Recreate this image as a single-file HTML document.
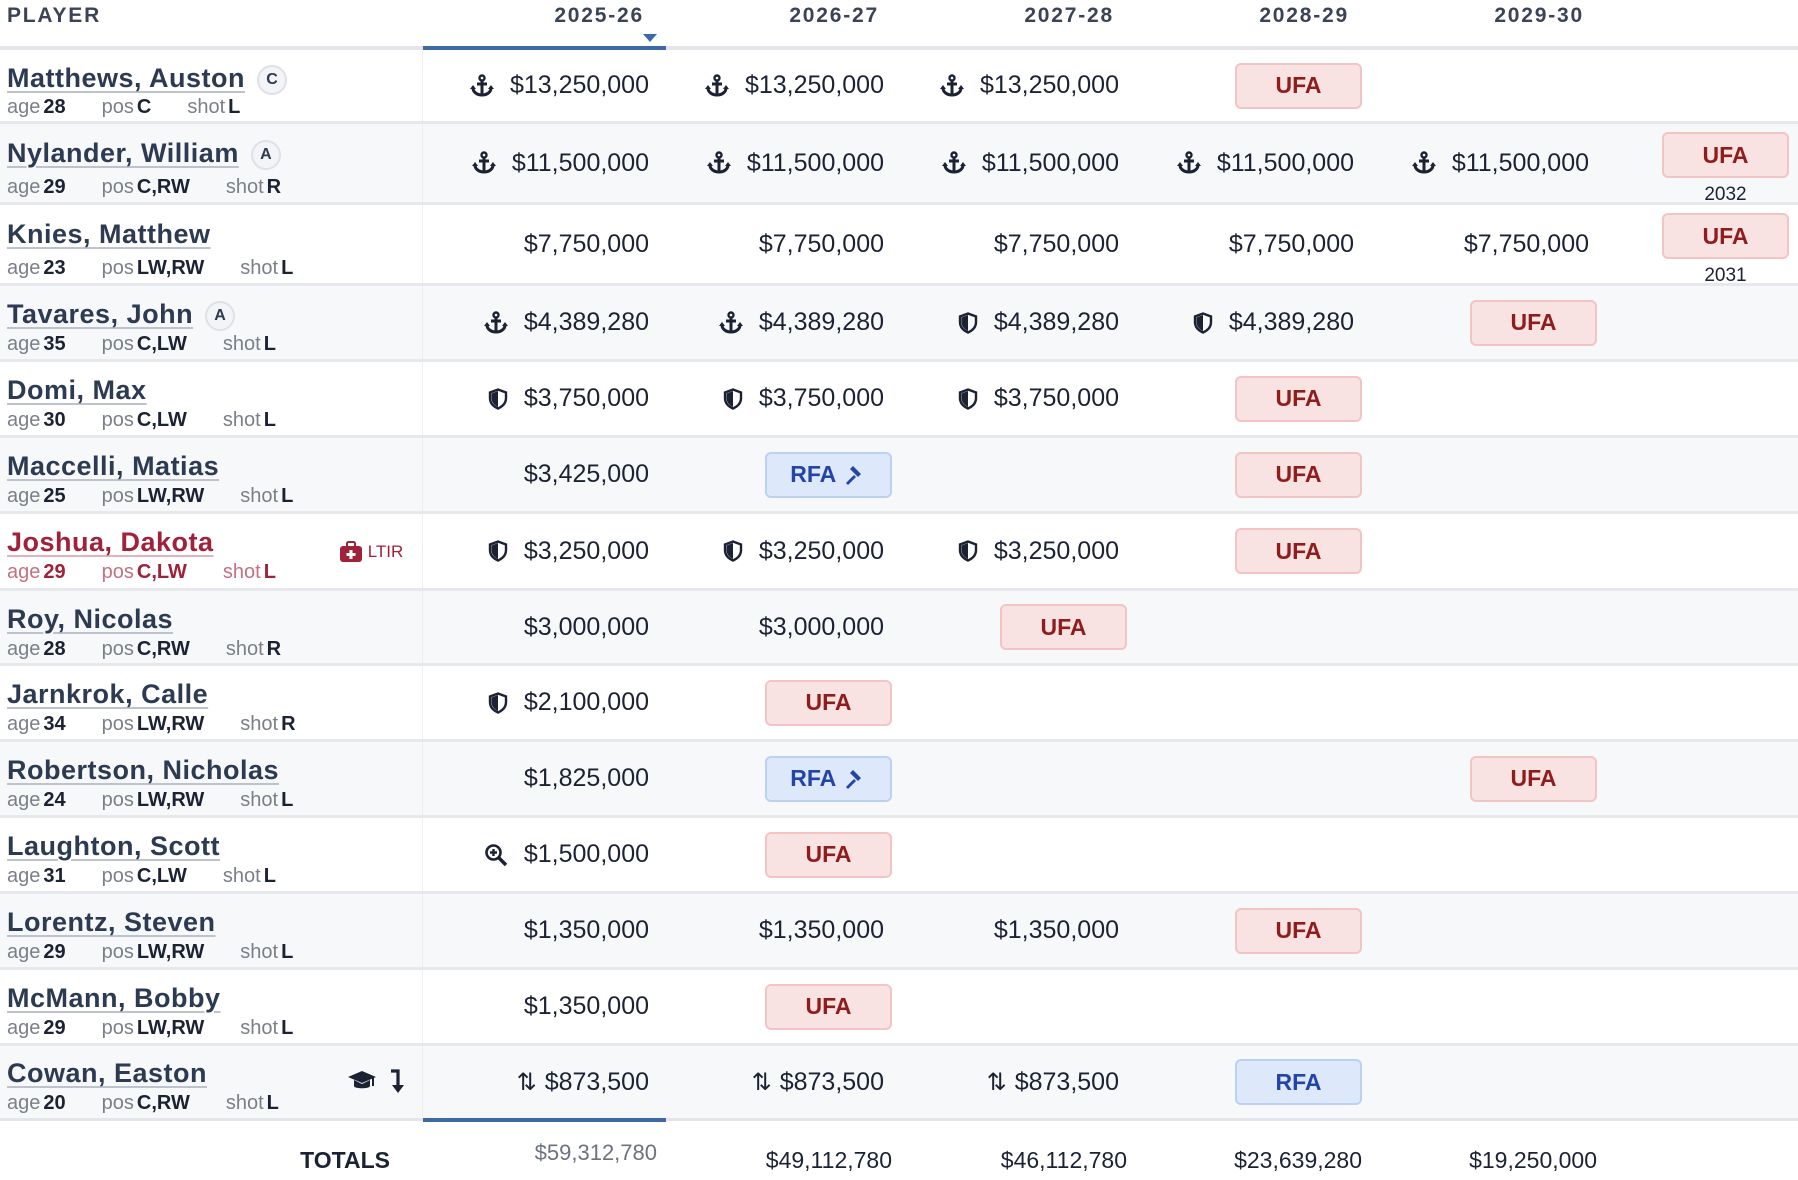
<!DOCTYPE html>
<html><head><meta charset="utf-8">
<style>
*{margin:0;padding:0;box-sizing:border-box}
body{width:1798px;height:1180px;background:#fff;position:relative;overflow:hidden;font-family:"Liberation Sans",sans-serif;color:#1b2233}
.hd{position:absolute;top:4px;font-size:21px;font-weight:bold;color:#3a4456;letter-spacing:1.8px;line-height:24px}
.r{position:absolute;left:0;width:1798px;border-bottom:3px solid #e6e8ec}
.g{background:#f7f8fa}
.pc{position:absolute;left:0;top:0;width:423px;height:100%;border-right:1px solid #eceef2}
.nm{position:absolute;left:7px;top:14px;font-size:27px;font-weight:bold;color:#2c3a52;line-height:30px;white-space:nowrap;letter-spacing:0.5px}
.nm u{text-decoration:underline;text-decoration-color:#bcc3cf;text-decoration-thickness:2px;text-underline-offset:4px}
.sb{position:absolute;left:7px;top:50px;font-size:20px;color:#7a7f88;line-height:22px;white-space:nowrap}
.sb b{color:#1b2233;margin-left:3px;margin-right:36px}
.tg{display:inline-block;width:30px;height:30px;border-radius:50%;border:2px solid #dde1e8;background:#f3f4f7;font-size:16px;text-align:center;line-height:26px;color:#2c3a52;margin-left:12px;vertical-align:3px;letter-spacing:0}
.m{position:absolute;top:0;height:100%;display:flex;align-items:center;font-size:25px;white-space:nowrap}
.m svg,.m .ic{margin-right:16px}
.ic{font-size:24px}
.m0{right:1149px}.m1{right:914px}.m2{right:679px}.m3{right:444px}.m4{right:209px}
.b{position:absolute;width:127px;height:46px;border-radius:6px;font-size:23px;font-weight:bold;display:flex;align-items:center;justify-content:center;top:50%;margin-top:-23px}
.u{background:#f9e2e2;border:2px solid #f2c4c4;color:#8f1d1d}
.f{background:#dde8fb;border:2px solid #bcd0f1;color:#2345a8}
.b0{right:1141px}.b1{right:906px}.b2{right:671px}.b3{right:436px}.b4{right:201px}
.bx{right:9px;top:8px;margin-top:0}
.yr{position:absolute;right:9px;width:127px;text-align:center;font-size:19px;top:60px}
.tot{position:absolute;font-size:23px;line-height:28px;white-space:nowrap}
</style></head><body>
<div class="hd" style="left:7px">PLAYER</div>
<div class="hd" style="right:1154px">2025-26</div>
<div class="hd" style="right:919px">2026-27</div>
<div class="hd" style="right:684px">2027-28</div>
<div class="hd" style="right:449px">2028-29</div>
<div class="hd" style="right:214px">2029-30</div>
<div style="position:absolute;left:643px;top:34px;width:0;height:0;border-left:7px solid transparent;border-right:7px solid transparent;border-top:8px solid #3d69a6"></div>
<div style="position:absolute;left:0;top:46px;width:1798px;height:4px;background:#e4e5ea"></div>
<div style="position:absolute;left:423px;top:46px;width:243px;height:4px;background:#3d69a6"></div>

<svg width="0" height="0" style="position:absolute"><defs>
<symbol id="sh" viewBox="0 0 20 22"><path d="M10 1.5 L18 4.5 V10 C18 15 14.5 18.5 10 20.5 C5.5 18.5 2 15 2 10 V4.5 Z" fill="none" stroke="#1b2233" stroke-width="2.4"/><path d="M10 3 V19 C6 17 3.5 14 3.5 10 V5.5 Z" fill="#1b2233"/></symbol>
<symbol id="an" viewBox="0 0 24 24"><circle cx="12" cy="4" r="2.5" fill="none" stroke="#1b2233" stroke-width="2.4"/><path d="M12 6.5V21M7 10h10M3 14c0 4 4 7 9 7s9-3 9-7" fill="none" stroke="#1b2233" stroke-width="3"/><path d="M0 15l3-4 3 4zM18 15l3-4 3 4z" fill="#1b2233"/></symbol>
<symbol id="hm" viewBox="0 0 24 24"><path d="M10 3l8 8-3 3-8-8z" fill="#2345a8"/><path d="M11 12L3 20l2 2 8-8z" fill="#2345a8"/></symbol>
</defs></svg>

<!-- Matthews -->
<div class="r" style="top:50px;height:74px"><div class="pc"></div>
<div class="nm" style="top:13px"><u>Matthews, Auston</u><span class="tg">C</span></div>
<div class="sb" style="top:46px">age<b>28</b>pos<b>C</b>shot<b>L</b></div>
<div class="m m0"><svg width="24" height="24"><use href="#an"/></svg>$13,250,000</div>
<div class="m m1"><svg width="24" height="24"><use href="#an"/></svg>$13,250,000</div>
<div class="m m2"><svg width="24" height="24"><use href="#an"/></svg>$13,250,000</div>
<div class="b u b3">UFA</div>
</div>
<!-- Nylander -->
<div class="r g" style="top:124px;height:81px"><div class="pc"></div>
<div class="nm"><u>Nylander, William</u><span class="tg">A</span></div>
<div class="sb" style="top:52px">age<b>29</b>pos<b>C,RW</b>shot<b>R</b></div>
<div class="m m0"><svg width="24" height="24"><use href="#an"/></svg>$11,500,000</div>
<div class="m m1"><svg width="24" height="24"><use href="#an"/></svg>$11,500,000</div>
<div class="m m2"><svg width="24" height="24"><use href="#an"/></svg>$11,500,000</div>
<div class="m m3"><svg width="24" height="24"><use href="#an"/></svg>$11,500,000</div>
<div class="m m4"><svg width="24" height="24"><use href="#an"/></svg>$11,500,000</div>
<div class="b u bx">UFA</div><div class="yr">2032</div>
</div>
<!-- Knies -->
<div class="r" style="top:205px;height:81px"><div class="pc"></div>
<div class="nm"><u>Knies, Matthew</u></div>
<div class="sb" style="top:52px">age<b>23</b>pos<b>LW,RW</b>shot<b>L</b></div>
<div class="m m0">$7,750,000</div><div class="m m1">$7,750,000</div><div class="m m2">$7,750,000</div><div class="m m3">$7,750,000</div><div class="m m4">$7,750,000</div>
<div class="b u bx">UFA</div><div class="yr">2031</div>
</div>
<!-- Tavares -->
<div class="r g" style="top:286px;height:76px"><div class="pc"></div>
<div class="nm" style="top:13px"><u>Tavares, John</u><span class="tg">A</span></div>
<div class="sb" style="top:47px">age<b>35</b>pos<b>C,LW</b>shot<b>L</b></div>
<div class="m m0"><svg width="24" height="24"><use href="#an"/></svg>$4,389,280</div>
<div class="m m1"><svg width="24" height="24"><use href="#an"/></svg>$4,389,280</div>
<div class="m m2"><svg width="20" height="22"><use href="#sh"/></svg>$4,389,280</div>
<div class="m m3"><svg width="20" height="22"><use href="#sh"/></svg>$4,389,280</div>
<div class="b u b4">UFA</div>
</div>
<!-- Domi -->
<div class="r" style="top:362px;height:76px"><div class="pc"></div>
<div class="nm" style="top:13px"><u>Domi, Max</u></div>
<div class="sb" style="top:47px">age<b>30</b>pos<b>C,LW</b>shot<b>L</b></div>
<div class="m m0"><svg width="20" height="22"><use href="#sh"/></svg>$3,750,000</div>
<div class="m m1"><svg width="20" height="22"><use href="#sh"/></svg>$3,750,000</div>
<div class="m m2"><svg width="20" height="22"><use href="#sh"/></svg>$3,750,000</div>
<div class="b u b3">UFA</div>
</div>
<!-- Maccelli -->
<div class="r g" style="top:438px;height:76px"><div class="pc"></div>
<div class="nm" style="top:13px"><u>Maccelli, Matias</u></div>
<div class="sb" style="top:47px">age<b>25</b>pos<b>LW,RW</b>shot<b>L</b></div>
<div class="m m0">$3,425,000</div>
<div class="b f b1">RFA&nbsp;<svg width="24" height="24"><use href="#hm"/></svg></div>
<div class="b u b3">UFA</div>
</div>
<!-- Joshua -->
<div class="r" style="top:514px;height:77px"><div class="pc"></div>
<div class="nm" style="top:13px;color:#a0213a"><u style="text-decoration-color:#e3b3bd">Joshua, Dakota</u></div>
<div class="sb" style="top:47px;color:#c4727f">age<b style="color:#a0213a">29</b>pos<b style="color:#a0213a">C,LW</b>shot<b style="color:#a0213a">L</b></div>
<div style="position:absolute;left:339px;top:27px;display:flex;align-items:center;color:#a0213a;font-size:17px"><svg width="24" height="22" viewBox="0 0 24 22"><rect x="1" y="5" width="22" height="16" rx="3" fill="#a0213a"/><rect x="8" y="1" width="8" height="6" rx="1.5" fill="none" stroke="#a0213a" stroke-width="2"/><path d="M12 9v9M7.5 13.5h9" stroke="#fff" stroke-width="3"/></svg>&nbsp;LTIR</div>
<div class="m m0"><svg width="20" height="22"><use href="#sh"/></svg>$3,250,000</div>
<div class="m m1"><svg width="20" height="22"><use href="#sh"/></svg>$3,250,000</div>
<div class="m m2"><svg width="20" height="22"><use href="#sh"/></svg>$3,250,000</div>
<div class="b u b3">UFA</div>
</div>
<!-- Roy -->
<div class="r g" style="top:591px;height:75px"><div class="pc"></div>
<div class="nm" style="top:13px"><u>Roy, Nicolas</u></div>
<div class="sb" style="top:47px">age<b>28</b>pos<b>C,RW</b>shot<b>R</b></div>
<div class="m m0">$3,000,000</div><div class="m m1">$3,000,000</div>
<div class="b u b2">UFA</div>
</div>
<!-- Jarnkrok -->
<div class="r" style="top:666px;height:76px"><div class="pc"></div>
<div class="nm" style="top:13px"><u>Jarnkrok, Calle</u></div>
<div class="sb" style="top:47px">age<b>34</b>pos<b>LW,RW</b>shot<b>R</b></div>
<div class="m m0"><svg width="20" height="22"><use href="#sh"/></svg>$2,100,000</div>
<div class="b u b1">UFA</div>
</div>
<!-- Robertson -->
<div class="r g" style="top:742px;height:76px"><div class="pc"></div>
<div class="nm" style="top:13px"><u>Robertson, Nicholas</u></div>
<div class="sb" style="top:47px">age<b>24</b>pos<b>LW,RW</b>shot<b>L</b></div>
<div class="m m0">$1,825,000</div>
<div class="b f b1">RFA&nbsp;<svg width="24" height="24"><use href="#hm"/></svg></div>
<div class="b u b4">UFA</div>
</div>
<!-- Laughton -->
<div class="r" style="top:818px;height:76px"><div class="pc"></div>
<div class="nm" style="top:13px"><u>Laughton, Scott</u></div>
<div class="sb" style="top:47px">age<b>31</b>pos<b>C,LW</b>shot<b>L</b></div>
<div class="m m0"><svg width="24" height="24" viewBox="0 0 24 24"><circle cx="9.5" cy="9.5" r="7" fill="none" stroke="#1b2233" stroke-width="2.6"/><path d="M14.5 14.5L22 22" stroke="#1b2233" stroke-width="3.5"/><path d="M9.5 6v7M6 9.5h7" stroke="#1b2233" stroke-width="2.4"/></svg>$1,500,000</div>
<div class="b u b1">UFA</div>
</div>
<!-- Lorentz -->
<div class="r g" style="top:894px;height:76px"><div class="pc"></div>
<div class="nm" style="top:13px"><u>Lorentz, Steven</u></div>
<div class="sb" style="top:47px">age<b>29</b>pos<b>LW,RW</b>shot<b>L</b></div>
<div class="m m0">$1,350,000</div><div class="m m1">$1,350,000</div><div class="m m2">$1,350,000</div>
<div class="b u b3">UFA</div>
</div>
<!-- McMann -->
<div class="r" style="top:970px;height:76px"><div class="pc"></div>
<div class="nm" style="top:13px"><u>McMann, Bobby</u></div>
<div class="sb" style="top:47px">age<b>29</b>pos<b>LW,RW</b>shot<b>L</b></div>
<div class="m m0">$1,350,000</div>
<div class="b u b1">UFA</div>
</div>
<!-- Cowan -->
<div class="r g" style="top:1046px;height:75px;border-bottom:3px solid #e4e5ea"><div class="pc"></div>
<div class="nm" style="top:12px"><u>Cowan, Easton</u></div>
<div class="sb" style="top:46px">age<b>20</b>pos<b>C,RW</b>shot<b>L</b></div>
<div style="position:absolute;left:347px;top:22px;display:flex;gap:12px;align-items:center">
<svg width="30" height="24" viewBox="0 0 30 24"><path d="M15 2L29 8 15 14 1 8z" fill="#1b2233"/><path d="M7 11v6c0 3 16 3 16 0v-6l-8 4z" fill="#1b2233"/><path d="M26 9v8" stroke="#1b2233" stroke-width="2"/></svg>
<svg width="16" height="26" viewBox="0 0 16 26"><path d="M2 3h7v17" fill="none" stroke="#1b2233" stroke-width="3.2"/><path d="M3 17l6 8 6-8z" fill="#1b2233"/></svg></div>
<div class="m m0"><span class="ic" style="margin-right:8px">⇅</span>$873,500</div>
<div class="m m1"><span class="ic" style="margin-right:8px">⇅</span>$873,500</div>
<div class="m m2"><span class="ic" style="margin-right:8px">⇅</span>$873,500</div>
<div class="b f b3">RFA</div>
</div>
<div style="position:absolute;left:423px;top:1118px;width:243px;height:4px;background:#3d69a6"></div>

<div class="tot" style="right:1408px;top:1146px;font-weight:bold;font-size:23px;color:#1b2233">TOTALS</div>
<div class="tot" style="right:1141px;top:1139px;color:#6b7280;font-size:22px">$59,312,780</div>
<div class="tot" style="right:906px;top:1146px">$49,112,780</div>
<div class="tot" style="right:671px;top:1146px">$46,112,780</div>
<div class="tot" style="right:436px;top:1146px">$23,639,280</div>
<div class="tot" style="right:201px;top:1146px">$19,250,000</div>
</body></html>
